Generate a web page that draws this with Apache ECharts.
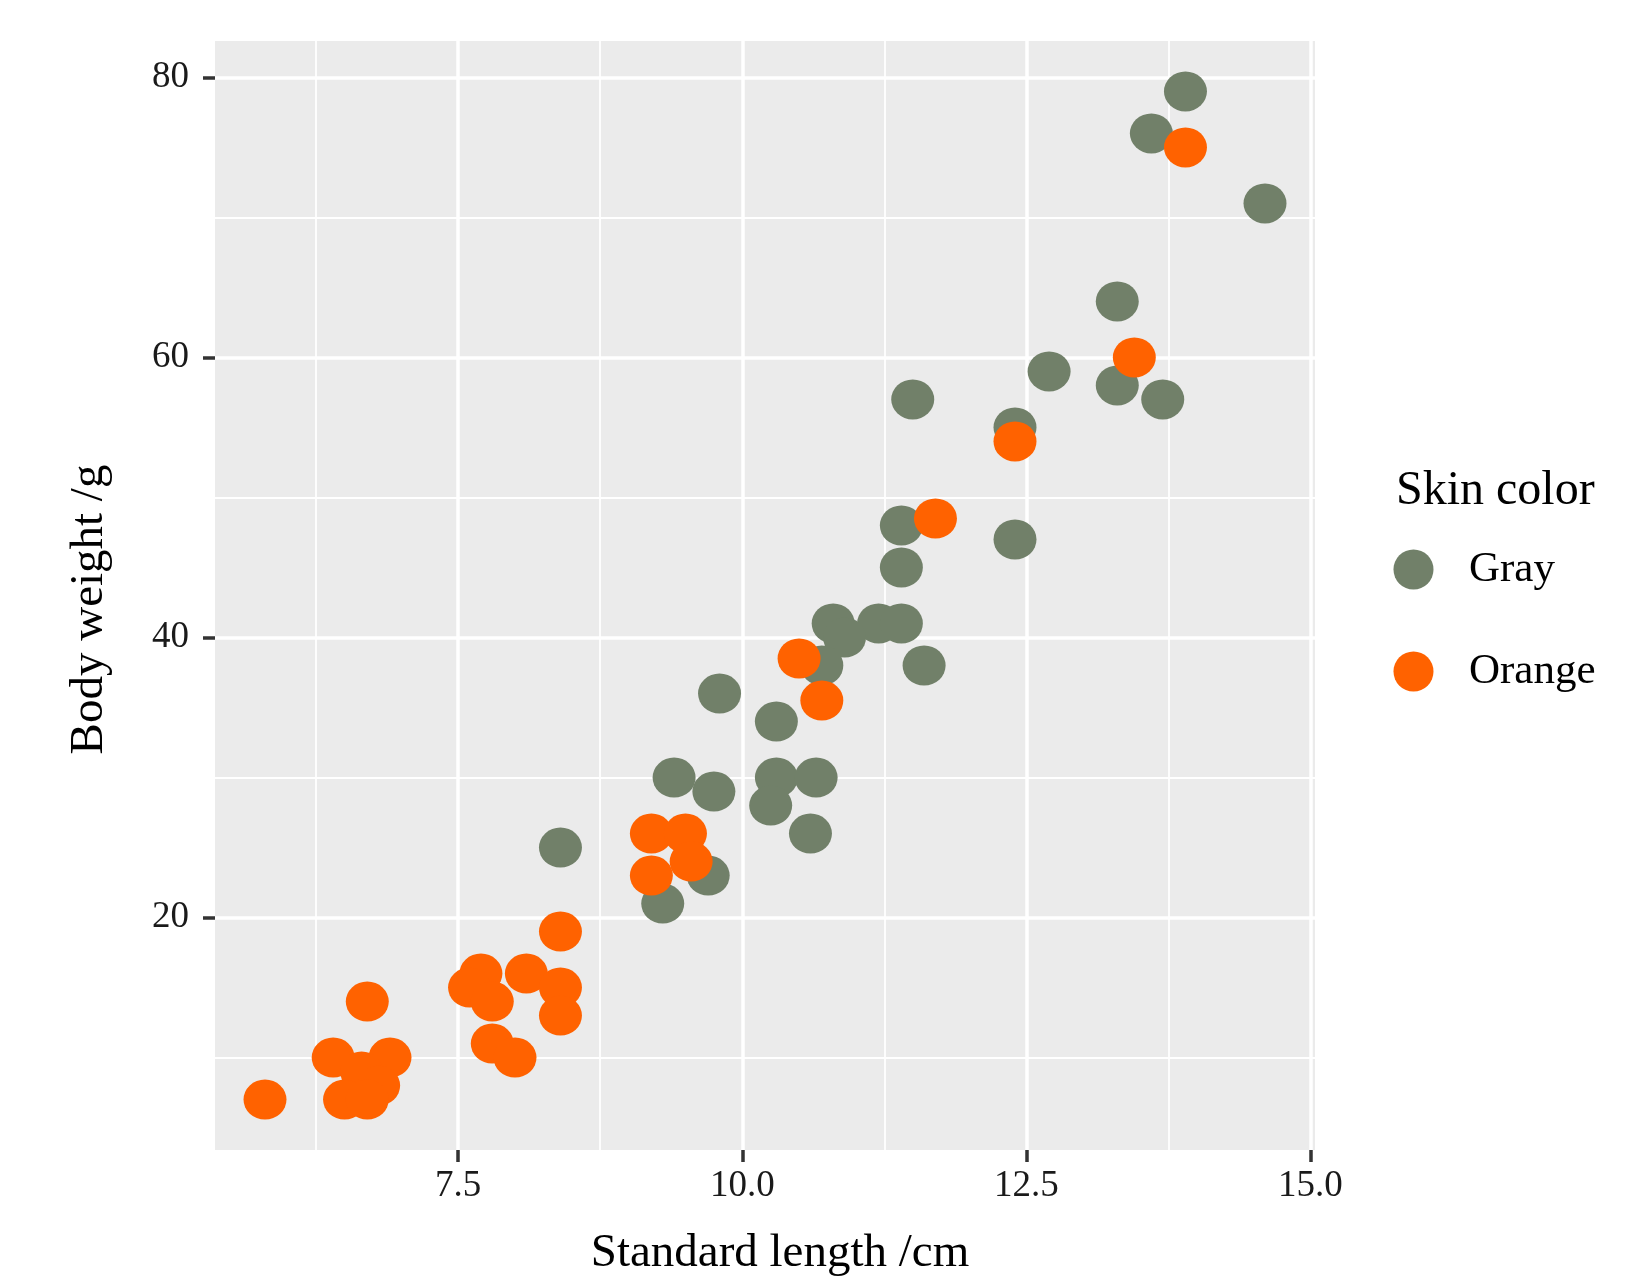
<!DOCTYPE html>
<html>
<head>
<meta charset="utf-8">
<script src="https://cdn.jsdelivr.net/npm/echarts@6/dist/echarts.min.js"></script>
<style>
  html, body { margin: 0; padding: 0; background: #ffffff; }
  #chart { width: 1649px; height: 1279px; }
</style>
</head>
<body>
<div id="chart"></div>
<script>
// ---- Data ----
const seriesNames = ['Gray', 'Orange'];

const grayLength = [13.9, 13.6, 14.6, 13.3, 12.7, 13.3, 13.7, 11.5, 12.4, 11.4, 12.4, 11.4,
                    10.8, 11.2, 11.4, 10.9, 10.7, 11.6, 9.8, 10.3, 9.4, 10.3, 10.65, 9.75,
                    10.25, 10.6, 9.7, 9.3, 8.4];
const grayWeight = [79, 76, 71, 64, 59, 58, 57, 57, 55, 48, 47, 45,
                    41, 41, 41, 40, 38, 38, 36, 34, 30, 30, 30, 29,
                    28, 26, 23, 21, 25];

const orangeLength = [13.9, 13.45, 12.4, 11.7, 10.5, 10.7, 9.2, 9.5, 9.55, 9.2, 8.4, 7.7,
                      8.1, 7.6, 8.4, 7.8, 8.4, 6.7, 7.8, 8.0, 6.4, 6.9, 6.65, 6.8,
                      6.5, 6.7, 5.8];
const orangeWeight = [75, 60, 54, 48.5, 38.5, 35.5, 26, 26, 24, 23, 19, 16,
                      16, 15, 15, 14, 13, 14, 11, 10, 10, 10, 9, 8,
                      7, 7, 7];

const xTicks = [7.5, 10, 12.5, 15];
const xMinor = [6.25, 8.75, 11.25, 13.75];
const yTicks = [20, 40, 60, 80];
const yMinor = [10, 30, 50, 70];

const colors = ['#718069', '#FF6200'];

// ---- Build ----
function pairs(xs, ys) { return xs.map((x, i) => [x, ys[i]]); }
function expand(arr) {
  const lo = Math.min(...arr), hi = Math.max(...arr), r = hi - lo;
  return [lo - 0.05 * r, hi + 0.05 * r];
}
const allX = grayLength.concat(orangeLength);
const allY = grayWeight.concat(orangeWeight);
const [xMin, xMax] = expand(allX);
const [yMin, yMax] = expand(allY);

const FONT = '"Liberation Serif", "Times New Roman", serif';
const ELLIPSE = 'path://M50,0A50,50,0,1,1,50,100A50,50,0,1,1,50,0Z';

const chart = echarts.init(document.getElementById('chart'), null, { renderer: 'canvas' });

const majorX = {
  type: 'value', min: xMin, max: xMax, position: 'bottom',
  axisLine: { show: false },
  axisTick: { show: true, customValues: xTicks, length: 12, lineStyle: { color: '#333333', width: 3.5 } },
  axisLabel: { show: true, customValues: xTicks, margin: 18, fontSize: 37, color: '#1a1a1a', fontFamily: FONT,
               formatter: v => Number(v).toFixed(1) },
  splitLine: { show: true, lineStyle: { color: '#ffffff', width: 3.5 } },
  name: 'Standard length /cm', nameLocation: 'middle', nameGap: 80,
  nameTextStyle: { fontSize: 47, color: '#000000', fontFamily: FONT, padding: [0, 0, 0, 30] }
};
const minorX = {
  type: 'value', min: xMin, max: xMax, position: 'bottom',
  axisLine: { show: false },
  axisTick: { show: false, customValues: xMinor },
  axisLabel: { show: false, customValues: xMinor },
  splitLine: { show: true, lineStyle: { color: '#ffffff', width: 1.8 } }
};
const majorY = {
  type: 'value', min: yMin, max: yMax, position: 'left',
  axisLine: { show: false },
  axisTick: { show: true, customValues: yTicks, length: 12, lineStyle: { color: '#333333', width: 3.5 } },
  axisLabel: { show: true, customValues: yTicks, margin: 26, fontSize: 37, color: '#1a1a1a', fontFamily: FONT },
  splitLine: { show: true, lineStyle: { color: '#ffffff', width: 3.5 } },
  name: 'Body weight /g', nameLocation: 'middle', nameGap: 102, nameRotate: 90,
  nameTextStyle: { fontSize: 47, color: '#000000', fontFamily: FONT, padding: [0, 28, 0, 0] }
};
const minorY = {
  type: 'value', min: yMin, max: yMax, position: 'left',
  axisLine: { show: false },
  axisTick: { show: false, customValues: yMinor },
  axisLabel: { show: false, customValues: yMinor },
  splitLine: { show: true, lineStyle: { color: '#ffffff', width: 1.8 } }
};

chart.setOption({
  animation: false,
  backgroundColor: '#ffffff',
  textStyle: { fontFamily: FONT },
  title: {
    text: 'Skin color', left: 1396, top: 467, padding: 0,
    textStyle: { fontSize: 48, fontWeight: 'normal', color: '#000000', fontFamily: FONT }
  },
  legend: {
    orient: 'vertical', left: 1393.5, top: 548, padding: 0,
    itemWidth: 43, itemHeight: 40, itemGap: 59,
    icon: ELLIPSE,
    data: seriesNames,
    textStyle: { fontSize: 43, color: '#000000', fontFamily: FONT, lineHeight: 40, padding: [0, 0, 0, 29] }
  },
  grid: {
    left: 215, right: 334, top: 41, bottom: 129,
    show: true, backgroundColor: '#EBEBEB', borderWidth: 0,
    containLabel: false, outerBoundsMode: 'none'
  },
  xAxis: [minorX, majorX],
  yAxis: [minorY, majorY],
  series: [
    {
      name: seriesNames[0], type: 'scatter', xAxisIndex: 1, yAxisIndex: 1,
      symbol: ELLIPSE, symbolSize: [43, 40],
      itemStyle: { color: colors[0], opacity: 1 },
      data: pairs(grayLength, grayWeight)
    },
    {
      name: seriesNames[1], type: 'scatter', xAxisIndex: 1, yAxisIndex: 1,
      symbol: ELLIPSE, symbolSize: [43, 40],
      itemStyle: { color: colors[1], opacity: 1 },
      data: pairs(orangeLength, orangeWeight)
    }
  ]
});
</script>
</body>
</html>
